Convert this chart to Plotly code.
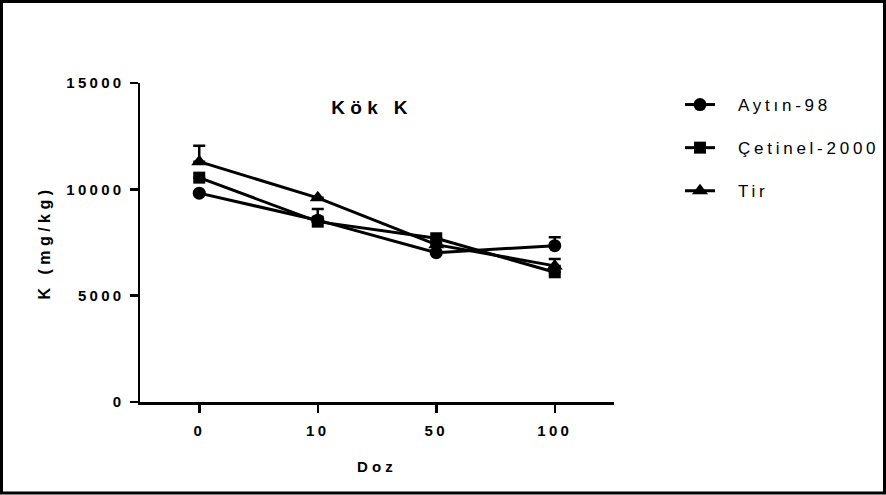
import plotly.graph_objects as go

doses = ["0", "10", "50", "100"]
aytin = [9820, 8550, 7020, 7350]
aytin_err = [0, 0, 0, 400]
cetinel = [10550, 8480, 7700, 6100]
cetinel_err = [0, 600, 0, 0]
tir = [11300, 9600, 7400, 6400]
tir_err = [750, 0, 0, 330]

names = ["Aytın-98", "Çetinel-2000", "Tir"]
symbols = ["circle", "square", "triangle-up"]
series = [aytin, cetinel, tir]
errs = [aytin_err, cetinel_err, tir_err]
msizes = [13, 12, 14]

fig = go.Figure()
for i, (n, s, y, e) in enumerate(zip(names, symbols, series, errs)):
    fig.add_trace(go.Scatter(
        x=doses, y=y, name=n, mode="lines+markers",
        line=dict(color="black", width=3),
        marker=dict(symbol=s, size=msizes[i], color="black"),
        error_y=dict(type="data", symmetric=False, array=e,
                     arrayminus=[0] * len(e), color="black",
                     thickness=2.5, width=6),
        legendgroup=n,
    ))

W, H = 886, 495
L, R, T, B = 140, 272, 83, 93
pw, ph = W - L - R, H - T - B

def px2x(p):
    return (p - L) / pw

def px2y(p):
    return (H - B - p) / ph

fig.add_shape(type="rect", xref="paper", yref="paper",
              x0=px2x(1.5), x1=px2x(W - 1.5), y0=px2y(H - 2), y1=px2y(1.5),
              line=dict(color="black", width=3), fillcolor="rgba(0,0,0,0)",
              layer="below")

FONT = "Liberation Sans, Arial, sans-serif"
fig.update_layout(
    width=W, height=H,
    margin=dict(l=L, r=R, t=T, b=B),
    paper_bgcolor="white", plot_bgcolor="white",
    font=dict(family=FONT, color="black"),
    title=dict(text="Kök K", x=px2x(372), xref="paper", xanchor="center",
               y=1 - 107 / H, yanchor="middle", font=dict(size=19, weight="bold")),
    showlegend=True,
    legend=dict(x=px2x(680), y=px2y(87), xanchor="left", yanchor="top",
                font=dict(size=17), tracegroupgap=18, itemwidth=30,
                bgcolor="rgba(0,0,0,0)"),
    xaxis=dict(type="category", range=[-0.5, 3.5], showgrid=False,
               showline=True, linecolor="black", linewidth=2.5,
               ticks="outside", ticklen=8, tickwidth=2.5, tickcolor="black",
               tickfont=dict(size=15, weight="bold"), ticklabelstandoff=5,
               title=dict(text="Doz", font=dict(size=15, weight="bold"), standoff=24),
               zeroline=False),
    yaxis=dict(range=[0, 15000], tickvals=[0, 5000, 10000, 15000],
               showgrid=False, showline=True, linecolor="black", linewidth=2.5,
               ticks="outside", ticklen=8, tickwidth=2.5, tickcolor="black",
               tickfont=dict(size=15, weight="bold"), ticklabelstandoff=2,
               tickformat="d",
               title=dict(text="K (mg/kg)", font=dict(size=16, weight="bold"), standoff=28),
               zeroline=False),
)

css = ("body{margin:0;padding:0;} "
       ".legendtext{letter-spacing:0.22em;transform:translate(18px,0px);} "
       ".xtick text,.ytick text{letter-spacing:0.22em;} "
       ".gtitle{letter-spacing:0.28em;} "
       ".xtitle,.ytitle{letter-spacing:0.28em;}")
post = ("var s=document.createElement('style');s.textContent='" + css +
        "';document.head.appendChild(s);"
        "function unclip(){document.querySelectorAll('.legend [clip-path], .legend .scrollbox')"
        ".forEach(function(e){e.removeAttribute('clip-path');});}"
        "unclip();setTimeout(unclip,0);setTimeout(unclip,200);")

fig.write_html("out.html", post_script=post,
               config={"displayModeBar": False, "staticPlot": True})
